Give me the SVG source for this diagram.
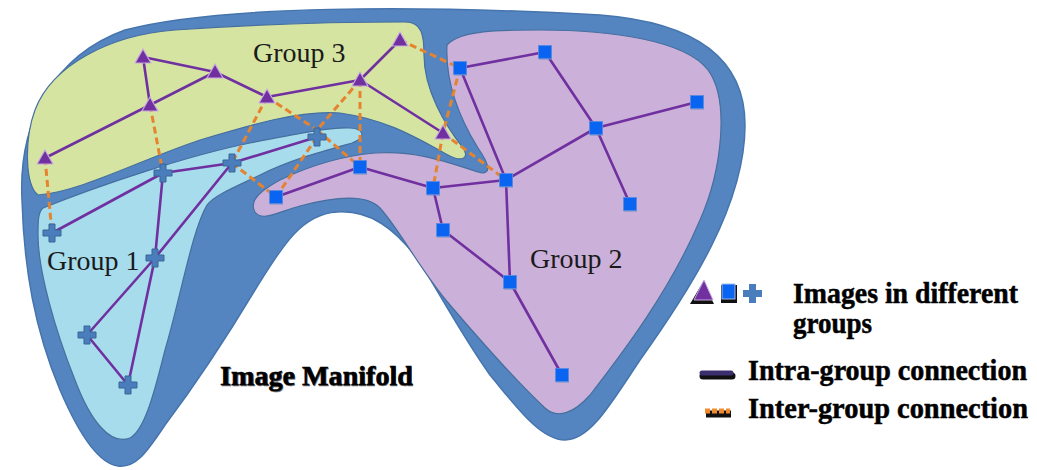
<svg xmlns="http://www.w3.org/2000/svg" xmlns:xlink="http://www.w3.org/1999/xlink" width="1037" height="470" viewBox="0 0 1037 470">
  <style>
    .region { stroke: #456f9f; stroke-width: 1.2; }
    .intra { stroke: #7030a0; stroke-width: 2.6; fill: none; stroke-linecap: round; }
    .inter { stroke: #e5832f; stroke-width: 3; fill: none; stroke-dasharray: 7 4; }
    .glabel { font-family: "Liberation Serif", "Times New Roman", serif; font-size: 28px; fill: #1a1a1a; }
    .bold { font-family: "Liberation Serif", "Times New Roman", serif; font-weight: bold; fill: #000; stroke: #000; stroke-width: 0.5; }
  </style>
  <defs>
    <polygon id="tri" points="0,-8 8,6 -8,6" fill="#7030a0" stroke="#c9a9e0" stroke-width="1.2" stroke-linejoin="round"/>
    <g id="sq">
      <rect x="-6" y="-5" width="13" height="13" fill="#6d8fc0" opacity="0.5"/>
      <rect x="-6.5" y="-6.5" width="13" height="13" fill="#0a64f2" stroke="#5a8ae0" stroke-width="0.8"/>
    </g>
    <path id="cross" d="M-3,-9 H3 V-3 H9 V3 H3 V9 H-3 V3 H-9 V-3 H-3 Z" fill="#4a7dbb" stroke="#3a6597" stroke-width="1"/>
  </defs>

  <!-- manifold surface -->
  <path id="manifold" d="M 22,200 C 18,120 55,55 125,30 C 220,5 420,5 600,15 C 690,22 745,55 745,125 C 745,205 690,290 640,360 C 610,405 590,440 565,440 C 540,440 515,405 490,375 C 465,340 440,295 420,262 C 395,228 370,210 337,212 C 300,214 280,250 255,290 C 225,340 195,385 165,425 C 145,455 135,468 118,466 C 95,463 75,425 60,390 C 35,330 24,270 22,200 Z" fill="#5585c0" stroke="#4675ae" stroke-width="1.5"/>

  <!-- group regions -->
  <path id="region2" class="region" fill="#cbb0d9" d="M 447,45 C 460,30 500,30 540,30 C 610,30 685,40 708,70 C 730,100 722,170 700,220 C 670,290 625,350 590,395 C 575,412 558,420 545,408 C 520,385 480,340 450,305 C 420,270 400,230 380,208 C 365,192 330,198 300,206 C 278,212 262,222 255,212 C 248,200 262,190 280,180 C 305,168 340,156 375,153 C 420,150 455,165 478,172 C 492,176 490,165 478,148 C 462,122 445,85 447,45 Z"/>
  <path id="region1" class="region" fill="#a6dcec" d="M 43,208 C 100,185 190,155 250,143 C 290,135 330,127 350,128 C 365,129 366,138 352,143 C 320,152 290,160 260,175 C 235,187 215,195 207,205 C 192,230 180,300 165,350 C 155,390 145,430 130,438 C 110,446 90,420 75,380 C 55,330 38,270 38,235 C 38,222 38,212 43,208 Z"/>
  <path id="region3" class="region" fill="#d6e4a2" d="M 38,195 C 25,185 24,140 35,110 C 52,65 110,35 175,30 C 260,24 340,22 405,22 C 422,22 424,35 424,55 C 424,90 445,125 463,148 C 470,158 462,162 450,156 C 420,140 390,120 340,113 C 300,110 250,125 200,140 C 140,160 80,192 38,195 Z"/>

  <!-- connectors -->
  <g id="connectors">
    <!-- group 3 -->
    <line class="intra" x1="143" y1="57" x2="215" y2="72"/>
    <line class="intra" x1="143" y1="57" x2="150" y2="105"/>
    <line class="intra" x1="215" y1="72" x2="150" y2="105"/>
    <line class="intra" x1="150" y1="105" x2="45" y2="158"/>
    <line class="intra" x1="215" y1="72" x2="267" y2="97"/>
    <line class="intra" x1="267" y1="97" x2="360" y2="80"/>
    <line class="intra" x1="360" y1="80" x2="400" y2="40"/>
    <line class="intra" x1="360" y1="80" x2="443" y2="133"/>
    <!-- group 1 -->
    <line class="intra" x1="52" y1="233" x2="163" y2="173"/>
    <line class="intra" x1="163" y1="173" x2="232" y2="163"/>
    <line class="intra" x1="232" y1="163" x2="317" y2="137"/>
    <line class="intra" x1="163" y1="173" x2="155" y2="258"/>
    <line class="intra" x1="232" y1="163" x2="155" y2="258"/>
    <line class="intra" x1="155" y1="258" x2="87" y2="335"/>
    <line class="intra" x1="155" y1="258" x2="128" y2="385"/>
    <line class="intra" x1="87" y1="335" x2="128" y2="385"/>
    <!-- group 2 -->
    <line class="intra" x1="276" y1="197" x2="360" y2="167"/>
    <line class="intra" x1="360" y1="167" x2="433" y2="188"/>
    <line class="intra" x1="433" y1="188" x2="506" y2="180"/>
    <line class="intra" x1="460" y1="68" x2="545" y2="52"/>
    <line class="intra" x1="460" y1="68" x2="506" y2="180"/>
    <line class="intra" x1="545" y1="52" x2="596" y2="128"/>
    <line class="intra" x1="596" y1="128" x2="697" y2="102"/>
    <line class="intra" x1="596" y1="128" x2="506" y2="180"/>
    <line class="intra" x1="596" y1="128" x2="630" y2="204"/>
    <line class="intra" x1="433" y1="188" x2="443" y2="230"/>
    <line class="intra" x1="443" y1="230" x2="510" y2="282"/>
    <line class="intra" x1="506" y1="180" x2="510" y2="282"/>
    <line class="intra" x1="510" y1="282" x2="562" y2="375"/>
    <!-- between groups -->
    <line class="inter" x1="45" y1="158" x2="52" y2="233"/>
    <line class="inter" x1="150" y1="105" x2="163" y2="173"/>
    <line class="inter" x1="267" y1="97" x2="232" y2="163"/>
    <line class="inter" x1="232" y1="163" x2="276" y2="197"/>
    <line class="inter" x1="267" y1="97" x2="317" y2="130"/>
    <line class="inter" x1="317" y1="130" x2="360" y2="167"/>
    <line class="inter" x1="360" y1="80" x2="317" y2="130"/>
    <line class="inter" x1="317" y1="137" x2="276" y2="197"/>
    <line class="inter" x1="360" y1="80" x2="360" y2="167"/>
    <line class="inter" x1="400" y1="40" x2="460" y2="68"/>
    <line class="inter" x1="460" y1="68" x2="443" y2="133"/>
    <line class="inter" x1="443" y1="133" x2="433" y2="188"/>
    <line class="inter" x1="443" y1="133" x2="506" y2="180"/>
  </g>

  <!-- group 3 nodes -->
  <g id="t1"><use xlink:href="#tri" x="143" y="57"/></g>
  <g id="t2"><use xlink:href="#tri" x="215" y="72"/></g>
  <g id="t3"><use xlink:href="#tri" x="150" y="105"/></g>
  <g id="t4"><use xlink:href="#tri" x="267" y="97"/></g>
  <g id="t5"><use xlink:href="#tri" x="45" y="158"/></g>
  <g id="t6"><use xlink:href="#tri" x="400" y="40"/></g>
  <g id="t7"><use xlink:href="#tri" x="360" y="80"/></g>
  <g id="t8"><use xlink:href="#tri" x="443" y="133"/></g>

  <!-- group 1 nodes -->
  <g id="c1"><use xlink:href="#cross" x="52" y="233"/></g>
  <g id="c2"><use xlink:href="#cross" x="163" y="173"/></g>
  <g id="c3"><use xlink:href="#cross" x="232" y="163"/></g>
  <g id="c4"><use xlink:href="#cross" x="317" y="137"/></g>
  <g id="c5"><use xlink:href="#cross" x="155" y="258"/></g>
  <g id="c6"><use xlink:href="#cross" x="87" y="335"/></g>
  <g id="c7"><use xlink:href="#cross" x="128" y="385"/></g>

  <!-- group 2 nodes -->
  <g id="s1"><use xlink:href="#sq" x="276" y="197"/></g>
  <g id="s2"><use xlink:href="#sq" x="360" y="167"/></g>
  <g id="s3"><use xlink:href="#sq" x="460" y="68"/></g>
  <g id="s4"><use xlink:href="#sq" x="545" y="52"/></g>
  <g id="s5"><use xlink:href="#sq" x="697" y="102"/></g>
  <g id="s6"><use xlink:href="#sq" x="596" y="128"/></g>
  <g id="s7"><use xlink:href="#sq" x="433" y="188"/></g>
  <g id="s8"><use xlink:href="#sq" x="506" y="180"/></g>
  <g id="s9"><use xlink:href="#sq" x="630" y="204"/></g>
  <g id="s10"><use xlink:href="#sq" x="443" y="230"/></g>
  <g id="s11"><use xlink:href="#sq" x="510" y="282"/></g>
  <g id="s12"><use xlink:href="#sq" x="562" y="375"/></g>

  <!-- labels -->
  <text class="glabel" x="253" y="62">Group 3</text>
  <text class="glabel" x="47" y="270">Group 1</text>
  <text class="glabel" x="530" y="268">Group 2</text>
  <text class="bold" x="221" y="386" font-size="28" fill="#777" stroke="#777" opacity="0.6">Image Manifold</text>
  <text class="bold" x="220" y="385" font-size="28" textLength="193" lengthAdjust="spacingAndGlyphs">Image Manifold</text>

  <!-- legend -->
  <g id="legend">
    <polygon points="703,282 714,304 690,304" fill="#111"/>
    <polygon points="704,280 713,300 694,300" fill="#7030a0" stroke="#c9a9e0" stroke-width="1"/>
    <rect x="721" y="285" width="16" height="18" fill="#111"/>
    <rect x="722" y="284" width="13" height="15" fill="#0a64f2" stroke="#9db9ea" stroke-width="1"/>
    <path d="M749,284 H756 V290 H762 V297 H756 V303 H749 V297 H743 V290 H749 Z" fill="#4a7dbb"/>
    <text class="bold" x="793" y="303" font-size="29" textLength="225" lengthAdjust="spacingAndGlyphs">Images in different</text>
    <text class="bold" x="793" y="333" font-size="29" textLength="79" lengthAdjust="spacingAndGlyphs">groups</text>
    <line x1="703" y1="376" x2="732" y2="376" stroke="#111" stroke-width="7" stroke-linecap="round"/>
    <line x1="702" y1="373" x2="731" y2="373" stroke="#3b2f6e" stroke-width="5" stroke-linecap="round"/>
    <text class="bold" x="748" y="380" font-size="29" textLength="279" lengthAdjust="spacingAndGlyphs">Intra-group connection</text>
    <line x1="706" y1="414" x2="731" y2="414" stroke="#111" stroke-width="7"/>
    <line x1="705" y1="411" x2="730" y2="411" stroke="#f08a2a" stroke-width="5" stroke-dasharray="5 2"/>
    <text class="bold" x="748" y="418" font-size="29" textLength="280" lengthAdjust="spacingAndGlyphs">Inter-group connection</text>
  </g>
</svg>
